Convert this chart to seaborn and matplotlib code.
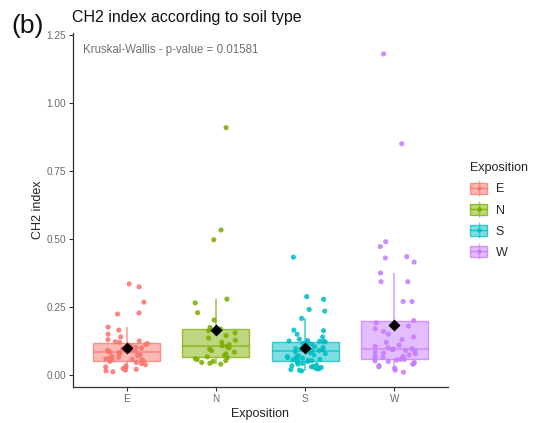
import numpy as np
import pandas as pd
import matplotlib
matplotlib.use("Agg")
import matplotlib.pyplot as plt
import seaborn as sns
from matplotlib.patches import Patch
from matplotlib.lines import Line2D
from matplotlib.colors import to_rgba
from matplotlib.legend_handler import HandlerTuple

# CH2 index values per exposition class
exposition = ["E", "N", "S", "W"]
palette = ["#F8766D", "#7CAE00", "#00BFC4", "#C77CFF"]

ch2_E = [0.012, 0.015, 0.018, 0.021, 0.024, 0.027, 0.030, 0.034, 0.038, 0.042,
         0.046, 0.050, 0.052, 0.056, 0.056, 0.058, 0.060, 0.062, 0.065, 0.068,
         0.071, 0.074, 0.078, 0.082, 0.084, 0.086, 0.087, 0.089, 0.091, 0.093,
         0.096, 0.099, 0.102, 0.105, 0.108, 0.112, 0.116, 0.120, 0.122, 0.125,
         0.130, 0.140, 0.150, 0.165, 0.176, 0.224, 0.228, 0.268, 0.324, 0.335]
ch2_N = [0.040, 0.043, 0.046, 0.050, 0.053, 0.057, 0.060, 0.064, 0.067, 0.072,
         0.078, 0.084, 0.090, 0.095, 0.100, 0.105, 0.108, 0.112, 0.120, 0.128,
         0.136, 0.145, 0.155, 0.163, 0.169, 0.175, 0.202, 0.229, 0.265, 0.279,
         0.497, 0.533, 0.909]
ch2_S = [0.015, 0.018, 0.020, 0.022, 0.024, 0.026, 0.028, 0.030, 0.032, 0.034,
         0.037, 0.040, 0.043, 0.047, 0.050, 0.053, 0.054, 0.055, 0.056, 0.058,
         0.060, 0.062, 0.064, 0.066, 0.068, 0.071, 0.074, 0.078, 0.082, 0.086,
         0.088, 0.089, 0.090, 0.091, 0.093, 0.095, 0.097, 0.099, 0.101, 0.104,
         0.107, 0.110, 0.113, 0.116, 0.119, 0.122, 0.123, 0.124, 0.125, 0.127,
         0.132, 0.140, 0.150, 0.163, 0.165, 0.208, 0.235, 0.241, 0.278, 0.288,
         0.433]
ch2_W = [0.010, 0.018, 0.025, 0.030, 0.035, 0.040, 0.043, 0.046, 0.050, 0.052,
         0.055, 0.057, 0.058, 0.062, 0.065, 0.068, 0.070, 0.074, 0.078, 0.080,
         0.084, 0.088, 0.090, 0.094, 0.095, 0.097, 0.100, 0.105, 0.110, 0.120,
         0.130, 0.140, 0.150, 0.160, 0.170, 0.180, 0.192, 0.200, 0.270, 0.270,
         0.343, 0.343, 0.375, 0.415, 0.430, 0.435, 0.472, 0.490, 0.850, 1.180]

y_ticks = [0.0, 0.25, 0.50, 0.75, 1.00, 1.25]
title_text = "CH2 index according to soil type"
panel_tag = "(b)"
test_text = "Kruskal-Wallis - p-value = 0.01581"

groups = [ch2_E, ch2_N, ch2_S, ch2_W]
df = pd.DataFrame({
    "Exposition": np.repeat(exposition, [len(g) for g in groups]),
    "CH2": np.concatenate(groups),
})

sns.set_theme(style="ticks")
plt.rcParams["font.family"] = ["Liberation Sans", "DejaVu Sans"]

fig = plt.figure(figsize=(5.34, 4.23), dpi=100)
ax = fig.add_axes([0.1367, 0.0851, 0.702, 0.837])

# boxes: translucent fill, coloured outline, no caps, no fliers
sns.boxplot(data=df, x="Exposition", y="CH2", hue="Exposition",
            order=exposition, hue_order=exposition, palette=palette,
            width=0.75, showfliers=False, showcaps=False, legend=False,
            linewidth=1.0, ax=ax)

for patch in ax.patches:
    verts = patch.get_path().vertices
    i = int(round(np.nanmean(verts[:, 0])))
    patch.set_facecolor(to_rgba(palette[i], 0.5))
    patch.set_edgecolor(to_rgba(palette[i], 0.75))
    patch.set_linewidth(1.0)
for line in ax.lines:
    i = int(round(np.nanmean(line.get_xdata())))
    line.set_color(to_rgba(palette[i], 0.75))
    line.set_linewidth(1.1)

# jittered observations
np.random.seed(11)
sns.stripplot(data=df, x="Exposition", y="CH2", hue="Exposition",
              order=exposition, hue_order=exposition, palette=palette,
              jitter=0.24, size=3.7, alpha=0.88, linewidth=0, legend=False,
              ax=ax, zorder=3)

# group means
sns.pointplot(data=df, x="Exposition", y="CH2", order=exposition,
              estimator="mean", errorbar=None, color="black", markers="D",
              linestyle="none", markersize=4.3, ax=ax, zorder=6)

ax.set_xlim(-0.6, 3.6)
ax.set_ylim(-0.044, 1.257)
ax.set_yticks(y_ticks)
ax.set_yticklabels([f"{t:.2f}" for t in y_ticks])

for side in ["top", "right"]:
    ax.spines[side].set_visible(False)
for side in ["left", "bottom"]:
    ax.spines[side].set_color("#333333")
    ax.spines[side].set_linewidth(0.9)
ax.tick_params(axis="both", colors="#333333", labelcolor="#6a6a6a",
               labelsize=7.2, length=3, width=0.8, pad=2)

ax.set_xlabel("Exposition", fontsize=9, color="#222222", labelpad=3)
ax.set_ylabel("CH2 index", fontsize=9, color="#222222")
ax.yaxis.set_label_coords(-0.078, 0.5)

ax.text(0.027, 0.952, test_text, transform=ax.transAxes, fontsize=8.3,
        color="#707070", ha="left", va="center")

fig.text(0.135, 0.958, title_text, fontsize=11.5, ha="left", va="center",
         color="#111111")
fig.text(0.022, 0.938, panel_tag, fontsize=19, ha="left", va="center",
         color="#111111")

handles = []
for c in palette:
    box = Patch(facecolor=to_rgba(c, 0.5), edgecolor=to_rgba(c, 0.75),
                linewidth=1.0)
    mid = Line2D([0], [0], color=to_rgba(c, 0.8), lw=1.0, marker="o",
                 markersize=3.2, markerfacecolor=c, markeredgewidth=0)
    whisk = Line2D([0], [0], ls="none", marker="|", markersize=12,
                   markeredgewidth=1.0, color=to_rgba(c, 0.6))
    handles.append((whisk, box, mid))

fig.legend(handles, exposition, title="Exposition", loc="upper left",
           bbox_to_anchor=(0.860, 0.643), frameon=False, fontsize=9,
           title_fontsize=9, handlelength=1.36, handleheight=0.95,
           labelspacing=0.68, handletextpad=0.65, alignment="left",
           handler_map={tuple: HandlerTuple(ndivide=1)})

fig.savefig("out.png", dpi=100)
